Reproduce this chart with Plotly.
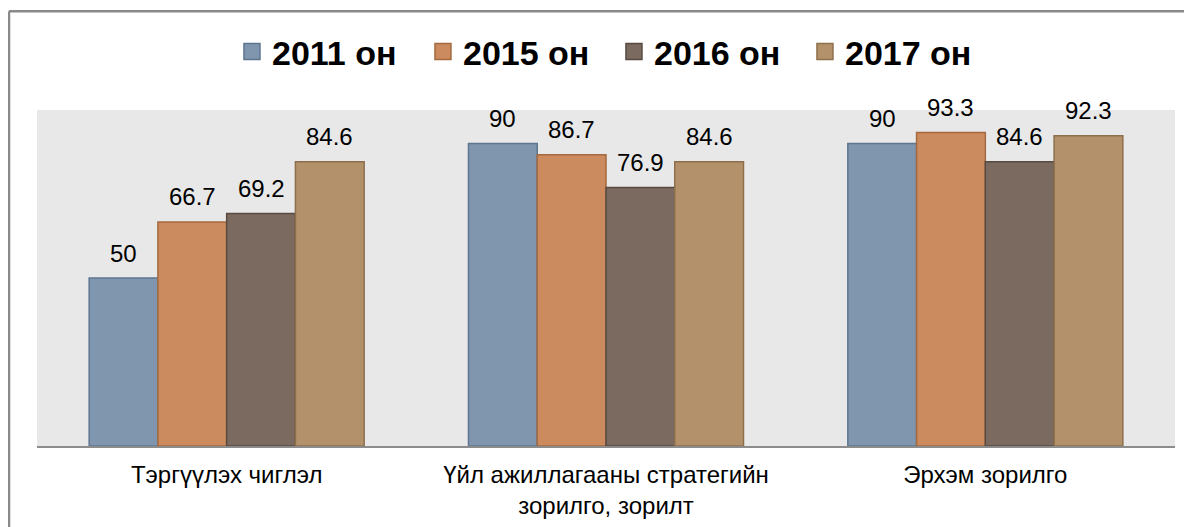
import plotly.graph_objects as go

categories = ["Тэргүүлэх чиглэл", "Үйл ажиллагааны стратегийн<br>зорилго, зорилт", "Эрхэм зорилго"]
series_names = ["2011 он", "2015 он", "2016 он", "2017 он"]
v2011 = [50, 90, 90]
v2015 = [66.7, 86.7, 93.3]
v2016 = [69.2, 76.9, 84.6]
v2017 = [84.6, 84.6, 92.3]
values = [v2011, v2015, v2016, v2017]

fills = ["#7f96ae", "#cb8b5f", "#7a6a5f", "#b3926b"]
edges = ["#5e7590", "#a5693f", "#584a41", "#8e6f4c"]

BARGAP = 0.275
FONT = "Liberation Sans, Arial, sans-serif"

fig = go.Figure()
for name, vals, fc, ec in zip(series_names, values, fills, edges):
    fig.add_trace(go.Bar(
        name=name, x=categories, y=vals, showlegend=False,
        marker=dict(color=fc, line=dict(color=ec, width=1.5)),
    ))
# legend entries (larger square swatches)
for name, fc, ec in zip(series_names, fills, edges):
    fig.add_trace(go.Scatter(
        name=name, x=[None], y=[None], mode="markers",
        marker=dict(symbol="square", size=18, color=fc, line=dict(color=ec, width=1.5)),
    ))

annotations = []
n = len(values)
for j, vals in enumerate(values):
    for i, v in enumerate(vals):
        annotations.append(dict(
            x=i + (j - (n - 1) / 2) * (1 - BARGAP) / n, y=v,
            xref="x", yref="y", text=f"{v:g}", showarrow=False,
            yanchor="middle", yshift=25,
            font=dict(family=FONT, size=24, color="#000000"),
        ))

fig.update_layout(
    width=1184, height=519,
    margin=dict(l=29, r=17, t=102, b=81, autoexpand=False),
    paper_bgcolor="white", plot_bgcolor="#e8e8e8",
    barmode="group", bargap=BARGAP, bargroupgap=0,
    font=dict(family=FONT, color="#000000"),
    showlegend=True,
    legend=dict(
        orientation="h", x=0.507, xanchor="center", y=1.173, yanchor="middle",
        font=dict(family=FONT, size=34, color="#000000", weight="bold"),
        bgcolor="rgba(0,0,0,0)", itemclick=False,
        entrywidth=146, entrywidthmode="pixels",
    ),
    xaxis=dict(
        showline=True, linecolor="#8c8c8c", linewidth=2, ticks="",
        tickfont=dict(family=FONT, size=24, color="#000000"),
        ticklabelstandoff=6, showgrid=False, automargin=False,
    ),
    yaxis=dict(range=[0, 100], visible=False, showgrid=False, automargin=False),
    annotations=annotations,
    shapes=[
        dict(type="line", xref="paper", yref="paper",
             x0=-0.0246, x1=-0.0246, y0=-0.5, y1=1.294,
             line=dict(color="#8a8a8a", width=2.5)),
        dict(type="line", xref="paper", yref="paper",
             x0=-0.0246, x1=1.1, y0=1.294, y1=1.294,
             line=dict(color="#8a8a8a", width=2.5)),
    ],
)

fig.write_html("out.html")
